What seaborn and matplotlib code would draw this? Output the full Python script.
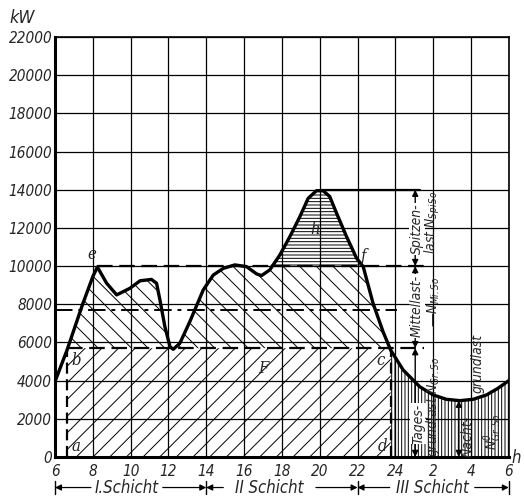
import numpy as np
import matplotlib
matplotlib.use("Agg")
import matplotlib.pyplot as plt
import seaborn as sb

# Belastungskurve eines Sonntags (Stunden ab 6 Uhr, 24..30 = 0..6 Uhr)
hours = np.array([6.0, 6.65, 7.46, 8.0, 8.24, 8.73, 9.26, 9.96, 10.5, 11.1, 11.37,
                  11.55, 11.81, 12.08, 12.25, 12.6, 13.13, 13.84, 14.37, 14.9, 15.51,
                  16.13, 16.66, 16.92, 17.36, 17.89, 18.42, 18.95, 19.39, 19.83, 20.18,
                  20.53, 20.89, 21.42, 21.95, 22.3, 22.82, 23.35, 23.75, 24.41, 25.11,
                  25.29, 26.0, 26.7, 27.41, 28.11, 28.82, 29.43, 30.0])
load = np.array([3950, 5640, 8000, 9450, 9950, 9100, 8490, 8835, 9230, 9300, 9100,
                 8220, 6830, 5780, 5640, 5950, 7090, 8750, 9530, 9880, 10060,
                 9970, 9590, 9500, 9800, 10580, 11540, 12590, 13550, 13950, 13950,
                 13640, 12770, 11540, 10410, 9970, 8050, 6560, 5600, 4560, 3860,
                 3680, 3250, 3020, 2950, 3020, 3250, 3600, 4000])

x_ticks = np.arange(6, 31, 2)
x_labels = ['6', '8', '10', '12', '14', '16', '18', '20', '22', '24', '2', '4', '6']
y_ticks = np.arange(0, 22001, 2000)

b_x, c_x = 6.65, 23.75      # Beginn / Ende Tagesbetrieb
e_x, peak_x = 8.24, 20.0
grund = 5700                # Grundlast
mittel = 10000              # Mittellast-Grenze
spitze = 14000              # Spitze
mean_load = 7700            # strichpunktierte Linie
night_min_x, night_min = 27.41, 2950

shift_edges = [6, 14, 22, 30]
shift_names = ['I.Schicht', 'II Schicht', 'III Schicht']
shift_pos = [9.8, 17.35, 25.95]
shift_gap = [(7.9, 11.7), (14.9, 19.8), (23.7, 28.2)]   # Luecke fuer den Text

sb.set_style("white")
plt.rcParams['font.family'] = ['Liberation Sans Narrow', 'DejaVu Sans']
plt.rcParams['font.style'] = 'italic'
plt.rcParams['font.stretch'] = 'condensed'
plt.rcParams['hatch.linewidth'] = 0.7

fig = plt.figure(figsize=(5.24, 5.03), dpi=100)
ax = fig.add_axes([0.105, 0.0915, 0.866, 0.835])

# schraffierte Flaechen
day = (hours >= b_x) & (hours <= c_x)
hatch_kw = dict(facecolor='none', edgecolor='black', linewidth=0)
ax.fill_between(hours, 0, np.minimum(load, grund), where=day, hatch='//', **hatch_kw)
ax.fill_between(hours, grund, np.clip(load, grund, mittel), where=day,
                hatch='\\\\', **hatch_kw)
ax.fill_between(hours, mittel, np.maximum(load, mittel), where=load > mittel,
                interpolate=True, hatch='-----', **hatch_kw)
ax.fill_between(hours, 0, load, where=hours >= c_x, hatch='|||||', **hatch_kw)

# Hilfslinien
ax.plot([e_x, 25.6], [mittel, mittel], color='black', lw=1.6, ls=(0, (7, 3)))
ax.plot([b_x, 25.5], [grund, grund], color='black', lw=1.6, ls=(0, (7, 3)))
ax.plot([6, 24.1], [mean_load, mean_load], color='black', lw=1.4, ls=(0, (9, 3, 2, 3)))
ax.plot([peak_x, 25.3], [spitze, spitze], color='black', lw=1.6)
ax.plot([b_x, b_x], [0, grund], color='black', lw=1.6, ls=(0, (5, 2.5)))
ax.plot([c_x, c_x], [0, grund], color='black', lw=1.6, ls=(0, (5, 2.5)))

sb.lineplot(x=hours, y=load, color='black', linewidth=2.4, ax=ax,
            solid_joinstyle='round', solid_capstyle='round')

ax.set_xlim(6, 30)
ax.set_ylim(0, 22000)
ax.set_xticks(x_ticks)
ax.set_xticklabels(x_labels)
ax.set_yticks(y_ticks)
ax.tick_params(length=0, labelsize=11)
ax.tick_params(axis='x', pad=5)
ax.tick_params(axis='y', pad=2)
ax.grid(True, color='black', linewidth=0.9)
ax.set_axisbelow(True)
for side in ['top', 'right']:
    ax.spines[side].set_linewidth(1.2)
    ax.spines[side].set_color('black')
for side in ['left', 'bottom']:
    ax.spines[side].set_linewidth(2.2)
    ax.spines[side].set_color('black')

# Buchstaben
letter_font = dict(family='DejaVu Serif', style='italic', fontsize=12)
ax.text(7.95, 10150, 'e', ha='center', va='bottom', **letter_font)
ax.text(7.1, 5050, 'b', ha='center', va='center', **letter_font)
ax.text(7.1, 120, 'a', ha='center', va='bottom', **letter_font)
ax.text(23.2, 5050, 'c', ha='center', va='center', **letter_font)
ax.text(23.3, 100, 'd', ha='center', va='bottom', **letter_font)
ax.text(17.0, 4650, 'F', ha='center', va='center', **letter_font)
ax.text(19.75, 11900, 'h', ha='center', va='center', **letter_font)
ax.text(22.35, 10500, 'f', ha='center', va='center', **letter_font)

# Pfeile rechts
arrow = dict(arrowstyle='<|-|>', color='black', lw=1.0, mutation_scale=9,
             shrinkA=0, shrinkB=0)
ax.annotate('', xy=(25.05, spitze), xytext=(25.05, mittel), arrowprops=arrow)
ax.annotate('', xy=(25.05, mittel), xytext=(25.05, grund), arrowprops=arrow)
ax.annotate('', xy=(25.05, grund), xytext=(25.05, 0), arrowprops=arrow)
ax.annotate('', xy=(night_min_x - 0.05, night_min), xytext=(night_min_x - 0.05, 0),
            arrowprops=arrow)

side_font = dict(rotation=90, fontsize=10, ha='center', va='center')
box = dict(facecolor='white', edgecolor='none', pad=0.5)
ax.text(25.15, 11950, 'Spitzen-', bbox=box, **side_font)
ax.text(25.95, 12300, 'last N$_{Spi\\,So}$', **side_font)
ax.text(25.15, 7900, 'Mittellast-', bbox=box, **side_font)
ax.text(26.05, 8100, '—N$_{Mi.So}$', **side_font)
ax.text(25.2, 1750, 'Tages-', bbox=box, **side_font)
ax.text(26.0, 2600, 'grundlast N$_{Gr.So}$', **side_font)
ax.text(27.85, 1100, 'Nacht-', **side_font)
ax.text(28.35, 4900, 'grundlast', **side_font)
ax.text(29.15, 1350, 'N$^{0}_{Gr.So}$', **side_font)

# Schichten unten
shift_y = -1600
head = dict(arrowstyle='-|>', color='black', lw=0.9, mutation_scale=9,
            shrinkA=0, shrinkB=0)
for i in range(3):
    left_end, right_end = shift_gap[i]
    ax.annotate('', xy=(shift_edges[i], shift_y), xytext=(left_end, shift_y),
                annotation_clip=False, arrowprops=head)
    ax.annotate('', xy=(shift_edges[i + 1], shift_y), xytext=(right_end, shift_y),
                annotation_clip=False, arrowprops=head)
    ax.text(shift_pos[i], shift_y, shift_names[i], ha='center', va='center',
            fontsize=12, clip_on=False)
for edge in shift_edges:
    ax.plot([edge, edge], [shift_y - 350, shift_y + 350], color='black', lw=1.0,
            clip_on=False)

fig.text(22 / 524, 1 - 18 / 503, 'kW', fontsize=13, ha='center', va='center')
fig.text(516 / 524, 1 - 458 / 503, 'h', fontsize=12, ha='center', va='center')

fig.savefig('out.png', dpi=100)
